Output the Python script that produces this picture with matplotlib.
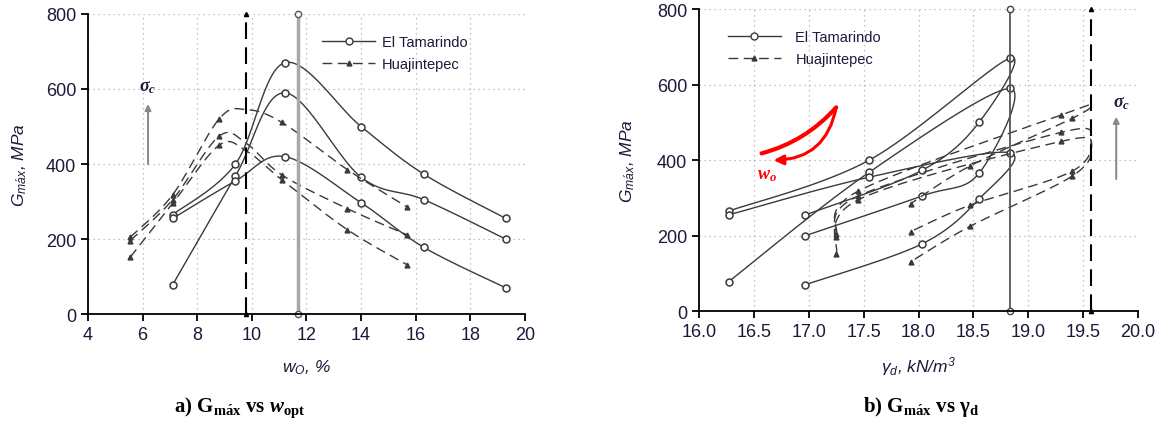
import numpy as np
import matplotlib.pyplot as plt

plt.rcParams['font.family'] = ['Liberation Sans', 'DejaVu Sans']
plt.rcParams['mathtext.fontset'] = 'custom'
plt.rcParams['mathtext.rm'] = 'Liberation Serif:bold'
plt.rcParams['mathtext.bf'] = 'Liberation Serif:bold'
plt.rcParams['mathtext.it'] = 'Liberation Serif:italic:bold'
plt.rcParams['mathtext.sf'] = 'Liberation Sans:italic'

# El Tamarindo specimens (water content %, dry unit weight kN/m3)
tam_w = [7.1, 9.4, 11.2, 14.0, 16.3, 19.3]
tam_gamma = [16.27, 17.55, 18.83, 18.55, 18.03, 16.97]
# Gmax (MPa) for three confining pressures
tam_G = [
    [265, 400, 670, 500, 373, 255],
    [78, 368, 590, 365, 305, 200],
    [255, 355, 420, 297, 178, 70],
]

# Huajintepec specimens
hua_w = [5.55, 7.1, 8.8, 11.1, 13.5, 15.7]
hua_gamma = [17.25, 17.45, 19.3, 19.4, 18.47, 17.93]
hua_G = [
    [205, 318, 520, 511, 385, 285],
    [196, 305, 474, 371, 281, 211],
    [152, 295, 450, 358, 225, 131],
]
# optimum point of each compaction curve
tam_wopt, tam_gmax = 11.7, 18.83
hua_wopt, hua_gmax = 9.8, 19.57
hua_G_opt = [545, 455, 435]

line_col = '#3a3a3a'
dash = (0, (7, 4))


def catmull_rom(x, y, n=24):
    p = np.column_stack([x, y]).astype(float)
    p = np.vstack([p[0], p, p[-1]])
    out = []
    for i in range(1, len(p) - 2):
        p0, p1, p2, p3 = p[i - 1], p[i], p[i + 1], p[i + 2]
        t = np.linspace(0, 1, n)[:, None]
        seg = 0.5 * ((2 * p1) + (-p0 + p2) * t
                     + (2 * p0 - 5 * p1 + 4 * p2 - p3) * t ** 2
                     + (-p0 + 3 * p1 - 3 * p2 + p3) * t ** 3)
        out.append(seg)
    out = np.vstack(out)
    return out[:, 0], out[:, 1]


def with_opt(vals, pos, v):
    vals = list(vals)
    return vals[:pos] + [v] + vals[pos:]


fig = plt.figure(figsize=(11.62, 4.27), dpi=100)
ax1 = fig.add_axes([0.0757, 0.262, 0.376, 0.703])
ax2 = fig.add_axes([0.6015, 0.269, 0.378, 0.707])


def style(ax, xlim, xticks, fmt):
    ax.set_xlim(*xlim)
    ax.set_ylim(0, 800)
    ax.set_xticks(xticks)
    ax.set_xticklabels([fmt.format(v) for v in xticks])
    ax.set_yticks([0, 200, 400, 600, 800])
    ax.grid(True, color='#b0b0b0', linestyle=(0, (1, 3)), linewidth=0.9)
    ax.set_axisbelow(True)
    for s in ['top', 'right']:
        ax.spines[s].set_visible(False)
    for s in ['left', 'bottom']:
        ax.spines[s].set_linewidth(1.3)
    ax.tick_params(direction='out', length=5, width=1.3, labelsize=13,
                   colors='black', labelcolor='#1a1a3a')


style(ax1, (4, 20), [4, 6, 8, 10, 12, 14, 16, 18, 20], '{:g}')
style(ax2, (16, 20), [16.0, 16.5, 17.0, 17.5, 18.0, 18.5, 19.0, 19.5, 20.0], '{:.1f}')

# ---- panel a: G vs w
for g in tam_G:
    xs, ys = catmull_rom(tam_w, g)
    ax1.plot(xs, ys, color=line_col, lw=1.0)
    ax1.plot(tam_w, g, 'o', ms=5, mfc='white', mec=line_col, mew=1.1)
for g, go in zip(hua_G, hua_G_opt):
    xs, ys = catmull_rom(with_opt(hua_w, 3, hua_wopt), with_opt(g, 3, go))
    ax1.plot(xs, ys, color=line_col, lw=1.0, ls=dash)
    ax1.plot(hua_w, g, '^', ms=3.5, color=line_col)

ax1.plot([hua_wopt, hua_wopt], [0, 800], color='black', lw=1.5, ls=(0, (8, 4)),
         marker='^', ms=3, clip_on=False)
ax1.plot([tam_wopt, tam_wopt], [0, 800], color='#a8a8a8', lw=2.5,
         marker='o', ms=4.5, mfc='white', mec='#555555', clip_on=False)

ax1.plot([], [], color=line_col, lw=1.0, marker='o', ms=5, mfc='white',
         mec=line_col, label='El Tamarindo')
ax1.plot([], [], color=line_col, lw=1.0, ls=dash, marker='^', ms=3.5,
         label='Huajintepec')
ax1.legend(loc='upper left', bbox_to_anchor=(0.52, 0.955), frameon=False,
           fontsize=10.5, handlelength=3.6, handletextpad=0.5, labelspacing=0.55,
           borderpad=0, labelcolor='#1a1a3a')

ax1.annotate('', xy=(6.2, 560), xytext=(6.2, 400),
             arrowprops=dict(arrowstyle='-|>', color='#888888', lw=1.4,
                             mutation_scale=9, shrinkA=0, shrinkB=0))
ax1.text(6.2, 585, r'$\sigma_c$', fontsize=13, color='#1a1a3a',
         ha='center', va='bottom')

ax1.set_xlabel(r'$\mathsf{w_O}$, %', fontsize=12.5, fontstyle='italic',
               color='#1a1a3a', labelpad=10)
ax1.set_ylabel(r'$\mathsf{G_{m\acute{a}x}}$, MPa', fontsize=12.5,
               fontstyle='italic', color='#1a1a3a', labelpad=12)

# ---- panel b: G vs gamma_d
for g in tam_G:
    xs, ys = catmull_rom(tam_gamma, g)
    ax2.plot(xs, ys, color=line_col, lw=1.0)
    ax2.plot(tam_gamma, g, 'o', ms=5, mfc='white', mec=line_col, mew=1.1)
for g, go in zip(hua_G, hua_G_opt):
    xs, ys = catmull_rom(with_opt(hua_gamma, 3, hua_gmax), with_opt(g, 3, go))
    ax2.plot(xs, ys, color=line_col, lw=1.0, ls=dash)
    ax2.plot(hua_gamma, g, '^', ms=3.5, color=line_col)

ax2.plot([tam_gmax, tam_gmax], [0, 800], color='#555555', lw=1.3,
         marker='o', ms=4.5, mfc='white', mec='#444444', clip_on=False)
ax2.plot([hua_gmax, hua_gmax], [0, 800], color='black', lw=1.5, ls=(0, (8, 4)),
         marker='^', ms=3, clip_on=False)

ax2.plot([], [], color=line_col, lw=1.0, marker='o', ms=5, mfc='white',
         mec=line_col, label='El Tamarindo')
ax2.plot([], [], color=line_col, lw=1.0, ls=dash, marker='^', ms=3.5,
         label='Huajintepec')
ax2.legend(loc='upper left', bbox_to_anchor=(0.05, 0.955), frameon=False,
           fontsize=10.5, handlelength=3.6, handletextpad=1.0, labelspacing=0.55,
           borderpad=0, labelcolor='#1a1a3a')

ax2.annotate('', xy=(19.8, 515), xytext=(19.8, 350),
             arrowprops=dict(arrowstyle='-|>', color='#888888', lw=1.4,
                             mutation_scale=9, shrinkA=0, shrinkB=0))
ax2.text(19.85, 530, r'$\sigma_c$', fontsize=13, color='#1a1a3a',
         ha='center', va='bottom')

# red crescent arrow showing increasing water content
ax2.annotate('', xy=(17.25, 540), xytext=(16.57, 418),
             arrowprops=dict(arrowstyle='-', color='red', lw=3,
                             connectionstyle='arc3,rad=0.15',
                             shrinkA=0, shrinkB=0))
ax2.annotate('', xy=(16.68, 400), xytext=(17.25, 540),
             arrowprops=dict(arrowstyle='-|>', color='red', lw=2.2,
                             mutation_scale=14,
                             connectionstyle='arc3,rad=-0.4',
                             shrinkA=0, shrinkB=0))
ax2.text(16.62, 362, r'$w_o$', color='red', fontsize=13, ha='center', va='center')

ax2.set_xlabel(r'$\mathsf{\gamma_d}$, kN/m$\mathsf{^3}$', fontsize=12.5,
               fontstyle='italic', color='#1a1a3a', labelpad=10)
ax2.set_ylabel(r'$\mathsf{G_{m\acute{a}x}}$, MPa', fontsize=12.5,
               fontstyle='italic', color='#1a1a3a', labelpad=14)

fig.text(0.206, 0.035, r'a) $\mathbf{G_{m\acute{a}x}}$ vs $w_{\mathbf{opt}}$',
         family='Liberation Serif', fontweight='bold', fontsize=15, ha='center')
fig.text(0.793, 0.035, r'b) $\mathbf{G_{m\acute{a}x}}$ vs $\mathbf{\gamma_d}$',
         family='Liberation Serif', fontweight='bold', fontsize=15, ha='center')

fig.savefig('out.png', dpi=100)
